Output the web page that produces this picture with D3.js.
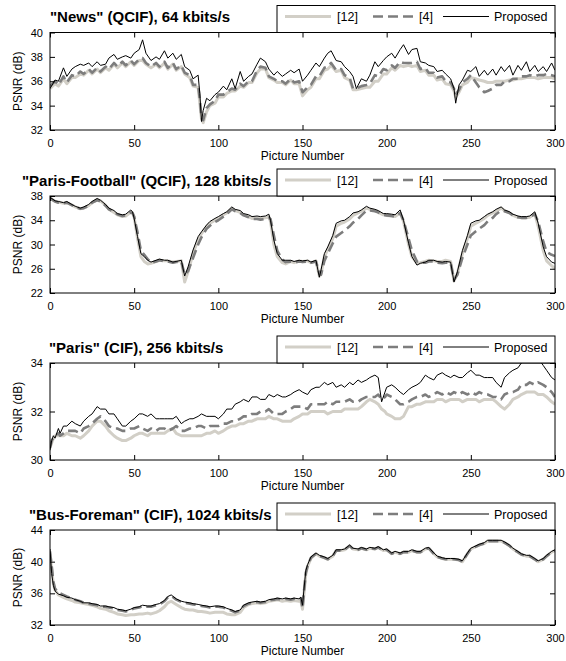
<!DOCTYPE html>
<html>
<head>
<meta charset="utf-8">
<script src="https://cdnjs.cloudflare.com/ajax/libs/d3/7.8.5/d3.min.js"></script>
<style>
body { margin: 0; background: #fff; }
text { font-family: "Liberation Sans", Arial, sans-serif; fill: #000; }
</style>
</head>
<body>
<script>
//---- data ----
var seriesNames = ["[12]", "[4]", "Proposed"];
var xTicks = [0, 50, 100, 150, 200, 250, 300];

// "News" (QCIF), 64 kbits/s
var newsTitle = "\"News\" (QCIF), 64 kbits/s";
var newsTicks = [32, 34, 36, 38, 40];
var newsFrames = [0,3,5,8,10,13,15,18,20,23, 25,28,30,33,35,38,40,43,45,48,
    50,53,55,57,60,63,65,68,70,73, 75,78,80,83,85,88,89,90,91,93,
    95,98,100,103,105,108,110,113,115,118, 120,123,125,128,130,133,135,138,140,143,
    145,148,150,153,155,158,160,163,165,167, 170,173,175,178,180,182,185,188,190,193,
    195,198,200,203,205,208,210,213,215,218, 220,223,225,228,230,233,235,238,240,241,
    243,245,248,250,253,255,258,260,263,265, 268,270,273,275,278,280,283,285,288,290,
    293,295,298,300];
var newsRef12 = [35.4,35.8,35.6,36.2,35.8,36.3,36.3,36.6,36.5,36.9, 36.6,37.0,36.7,37.1,36.9,37.4,37.1,37.5,37.2,37.6,
    37.3,37.7,37.7,37.4,37.1,37.4,37.1,37.5,37.0,37.4, 36.9,37.2,36.6,36.3,35.6,35.5,34.2,32.9,32.6,33.5,
    34.0,34.2,34.7,34.7,35.0,35.2,35.2,35.6,35.5,35.9, 35.9,36.7,37.0,37.0,36.3,36.1,35.9,35.9,35.7,36.1,
    35.8,35.8,34.8,35.3,35.5,36.2,36.2,36.9,37.0,37.3, 36.8,36.9,36.3,36.1,35.3,35.3,35.4,35.5,35.5,36.0,
    36.0,36.6,36.6,37.1,36.9,37.3,37.2,37.3,37.2,37.3, 36.8,36.9,36.5,36.5,36.1,36.2,35.8,35.7,35.2,34.7,
    35.1,35.7,35.9,36.3,36.2,36.1,36.0,35.9,35.9,36.0, 36.0,36.0,36.1,36.1,36.2,36.2,36.3,36.3,36.3,36.2,
    36.3,36.3,36.3,36.2];
var newsRef4 = [35.6,36.0,35.7,36.4,35.9,36.5,36.4,36.8,36.6,37.0, 36.7,37.1,36.8,37.2,37.0,37.5,37.2,37.6,37.3,37.7,
    37.4,37.8,37.9,37.5,37.2,37.5,37.2,37.6,37.1,37.5, 37.0,37.3,36.7,36.5,35.7,35.7,34.5,33.0,32.8,33.8,
    34.1,34.4,34.9,34.9,35.1,35.4,35.3,35.8,35.6,36.0, 36.0,36.9,37.2,37.1,36.4,36.2,36.0,36.0,35.8,36.2,
    35.9,36.0,35.1,35.5,35.7,36.4,36.4,37.1,37.2,37.5, 36.9,37.0,36.5,36.3,35.4,35.4,35.6,35.7,35.8,36.5,
    36.4,37.0,36.9,37.3,37.1,37.6,37.5,37.5,37.5,37.6, 37.0,37.1,36.7,36.7,36.3,36.4,36.0,35.9,35.4,34.9,
    35.3,35.9,36.2,36.5,35.9,35.5,35.1,35.2,35.4,35.7, 35.7,36.0,36.0,36.2,36.2,36.4,36.4,36.5,36.4,36.5,
    36.5,36.6,36.5,36.4];
var newsProposed = [35.4,36.1,36.0,37.1,36.4,37.0,37.2,37.4,37.3,37.5, 37.2,37.6,37.3,37.4,37.9,38.2,37.8,38.0,38.1,37.9,
    38.3,38.6,39.4,38.3,37.7,38.0,37.8,38.5,37.9,38.3, 37.8,38.2,37.2,36.9,36.2,36.5,35.0,32.7,33.6,34.6,
    34.4,34.9,35.1,35.6,35.3,36.2,35.4,36.8,36.0,36.4, 36.6,37.4,37.9,37.6,37.0,36.5,36.8,36.4,36.6,36.9,
    36.7,37.0,36.0,36.5,36.9,37.5,37.2,37.9,38.3,38.5, 37.7,37.6,37.2,36.8,36.4,35.4,36.2,36.0,36.5,37.6,
    37.2,37.7,38.0,38.3,37.9,38.6,39.0,38.2,38.6,38.7, 37.6,37.5,37.3,37.2,36.8,36.9,36.6,36.2,35.4,34.2,
    35.7,36.1,36.9,36.8,37.2,36.4,36.9,36.5,37.0,36.5, 37.2,36.8,37.3,36.5,37.3,36.9,37.6,36.8,37.3,36.8,
    37.2,36.8,37.5,36.9];

// "Paris-Football" (QCIF), 128 kbits/s
var footTitle = "\"Paris-Football\" (QCIF), 128 kbits/s";
var footTicks = [22, 26, 30, 34, 38];
var footFrames = [0,3,5,8,10,13,15,18,20,23, 25,28,30,33,35,38,40,43,45,48,
    49,50,52,54,56,58,60,63,65,68, 70,73,75,78,80,82,85,88,90,93,
    95,98,100,103,105,108,110,113,115,118, 120,123,125,128,130,131,133,135,138,140,
    143,145,148,150,153,155,158,160,161,163, 165,168,170,173,175,178,180,183,185,188,
    190,193,195,198,200,203,205,208,210,213, 215,218,220,223,225,228,230,233,235,238,
    240,242,245,248,250,253,255,258,260,263, 265,268,270,273,275,278,280,283,285,288,
    290,293,295,298,300];
var footRef12 = [37.7,37.1,37.0,36.8,36.9,36.5,36.2,35.9,36.0,36.4, 36.9,37.4,37.2,36.5,35.8,35.3,34.9,34.6,34.7,35.3,
    35.2,34.5,31.0,28.0,27.2,26.8,26.9,27.2,27.4,27.3, 27.3,27.1,27.2,27.3,23.8,25.5,28.5,30.8,31.8,33.0,
    33.5,34.0,34.3,34.9,35.2,35.9,35.6,35.3,34.9,34.6, 34.3,34.4,34.3,34.4,34.6,33.8,30.0,28.0,27.0,26.8,
    27.2,27.0,27.3,27.2,27.3,27.0,27.3,24.8,25.2,28.0, 29.2,31.0,33.0,33.5,33.7,34.2,34.8,35.2,35.5,36.0,
    35.8,35.6,35.3,34.9,34.8,34.7,34.6,35.2,33.8,30.0, 28.0,26.9,27.0,27.2,27.4,27.3,27.2,27.2,27.4,27.2,
    24.0,25.2,28.5,31.0,33.0,33.5,33.8,34.3,34.8,35.2, 35.5,36.0,35.6,35.2,34.8,34.5,34.4,34.4,34.5,35.1,
    33.0,29.0,27.3,26.5,26.0];
var footRef4 = [37.6,37.1,36.9,36.8,36.9,36.5,36.2,35.9,36.0,36.4, 36.9,37.3,37.1,36.4,35.8,35.4,35.0,34.7,34.8,35.3,
    35.2,34.6,32.0,29.0,28.3,27.6,27.0,27.2,27.4,27.2, 27.2,27.0,27.1,27.2,25.0,25.6,27.8,30.0,31.2,32.6,
    33.1,33.7,34.0,34.6,35.0,35.8,35.5,35.2,34.8,34.5, 34.2,34.2,34.1,34.2,34.4,34.2,31.5,29.0,27.5,27.1,
    27.2,27.0,27.2,27.1,27.2,27.0,27.2,25.2,25.0,27.3, 28.5,30.2,31.3,31.9,32.3,33.0,33.6,34.2,34.8,35.6,
    35.6,35.5,35.3,34.9,34.8,34.7,34.6,35.2,34.0,31.0, 29.0,27.2,27.0,27.0,27.2,27.2,27.0,26.9,27.0,27.0,
    24.2,25.0,27.8,30.0,31.5,32.2,32.6,33.2,33.8,34.4, 35.0,35.6,35.5,35.2,34.8,34.5,34.4,34.4,34.5,35.0,
    33.8,30.5,28.8,28.3,28.1];
var footProposed = [37.8,37.2,37.1,36.9,37.1,36.6,36.3,36.0,36.2,36.6, 37.1,37.6,37.3,36.6,36.0,35.6,35.1,34.9,35.0,35.7,
    35.4,34.3,31.3,28.5,28.0,27.4,27.1,27.4,27.6,27.4, 27.4,27.1,27.2,27.4,24.8,26.3,29.1,31.3,32.1,33.2,
    33.8,34.3,34.6,35.1,35.4,36.2,35.8,35.6,35.1,34.9, 34.6,34.7,34.6,34.7,35.0,34.0,30.7,28.5,27.4,27.4,
    27.4,27.2,27.4,27.3,27.4,27.1,27.4,24.6,25.8,28.5, 29.6,31.5,33.5,33.9,34.0,34.6,35.2,35.4,35.7,36.3,
    36.0,35.8,35.6,35.1,35.1,35.0,34.9,35.7,34.0,30.2, 28.0,26.6,26.9,27.1,27.4,27.4,27.2,27.1,27.2,27.1,
    23.8,25.5,29.0,31.5,33.5,33.9,34.0,34.6,35.0,35.4, 35.8,36.2,35.7,35.4,35.0,34.7,34.6,34.6,34.7,35.4,
    33.5,29.6,28.0,27.1,26.9];

// "Paris" (CIF), 256 kbits/s
var parisTitle = "\"Paris\" (CIF), 256 kbits/s";
var parisTicks = [30, 32, 34];
var parisFrames = [0,1,2,3,5,6,8,10,13,15, 18,20,23,25,28,30,33,35,38,40,
    43,45,48,50,53,55,58,60,63,65, 68,70,73,75,78,80,83,85,88,90,
    93,95,98,100,103,105,108,110,113,115, 118,120,123,125,128,130,133,135,138,140,
    143,145,148,150,153,155,158,160,163,165, 168,170,173,175,178,180,183,185,188,190,
    193,195,196,197,199,200,203,205,208,210, 213,215,218,220,223,225,228,230,233,235,
    238,240,243,245,248,250,253,255,258,260, 263,265,268,270,273,275,278,280,283,285,
    288,290,293,295,298,300];
var parisRef12 = [30.5,30.7,30.9,31.0,31.0,31.0,31.0,31.1,31.0,31.0, 30.9,31.0,31.2,31.4,31.6,31.6,31.4,31.2,31.0,30.9,
    30.8,30.8,30.9,31.0,31.1,31.1,31.0,31.1,31.1,31.1, 31.1,31.2,31.3,31.1,31.0,31.0,31.0,31.0,31.0,31.0,
    31.1,31.1,31.2,31.1,31.2,31.3,31.4,31.4,31.5,31.5, 31.6,31.6,31.7,31.7,31.7,31.8,31.7,31.7,31.6,31.6,
    31.6,31.7,31.8,31.9,31.9,32.0,32.0,32.0,32.0,31.9, 32.0,32.0,32.0,32.1,32.1,32.1,32.1,32.2,32.4,32.5,
    32.4,32.3,32.2,32.1,32.0,31.9,31.8,31.7,31.7,31.8, 32.2,32.2,32.3,32.3,32.4,32.4,32.4,32.5,32.5,32.4,
    32.5,32.5,32.5,32.4,32.5,32.5,32.5,32.4,32.5,32.5, 32.5,32.4,32.2,32.1,32.3,32.5,32.6,32.7,32.8,32.8,
    32.8,32.7,32.7,32.6,32.4,32.3];
var parisRef4 = [30.5,30.8,30.9,31.0,31.1,31.0,31.1,31.2,31.2,31.2, 31.1,31.3,31.4,31.5,31.7,31.8,31.6,31.4,31.3,31.3,
    31.2,31.2,31.3,31.3,31.4,31.3,31.2,31.3,31.2,31.3, 31.3,31.2,31.3,31.4,31.2,31.2,31.3,31.3,31.4,31.4,
    31.3,31.4,31.4,31.4,31.5,31.5,31.6,31.6,31.7,31.8, 31.8,31.9,31.9,32.0,32.0,32.1,31.9,31.9,31.9,32.0,
    32.1,32.2,32.2,32.2,32.1,32.3,32.3,32.3,32.3,32.4, 32.3,32.4,32.4,32.4,32.5,32.4,32.4,32.5,32.6,32.6,
    32.6,32.7,32.6,32.5,32.6,32.7,32.6,32.5,32.3,32.3, 32.4,32.5,32.6,32.6,32.7,32.6,32.7,32.8,32.7,32.8,
    32.7,32.8,32.7,32.8,32.7,32.8,32.7,32.8,32.7,32.7, 32.6,32.6,32.5,32.7,32.8,32.8,32.9,33.1,33.1,33.2,
    33.1,33.2,33.1,33.0,32.8,32.6];
var parisProposed = [30.4,30.8,31.0,30.9,31.3,31.1,31.4,31.4,31.6,31.5, 31.4,31.6,31.8,31.9,32.2,32.1,32.1,31.9,31.9,31.7,
    31.4,31.4,31.6,31.7,31.9,31.9,31.8,31.9,31.7,31.7, 31.7,31.7,31.7,31.8,31.5,31.6,31.7,31.7,31.8,31.9,
    31.8,31.8,31.8,31.7,31.9,32.1,32.1,32.3,32.4,32.5, 32.4,32.6,32.6,32.5,32.5,32.7,32.6,32.7,32.6,32.6,
    32.7,32.8,32.9,32.8,32.7,32.9,33.0,33.0,33.2,33.1, 33.2,33.0,33.1,33.0,33.2,33.1,33.3,33.2,33.3,33.4,
    33.5,33.4,32.9,32.4,32.8,33.0,33.1,33.0,32.8,32.7, 32.9,33.0,33.1,33.2,33.5,33.4,33.3,33.5,33.6,33.5,
    33.4,33.5,33.4,33.4,33.6,33.7,33.5,33.5,33.4,33.4, 33.4,33.2,33.0,33.4,33.6,33.7,33.8,34.0,34.2,34.2,
    34.1,34.2,33.9,33.7,33.4,33.3];

// "Bus-Foreman" (CIF), 1024 kbits/s
var busTitle = "\"Bus-Foreman\" (CIF), 1024 kbits/s";
var busTicks = [32, 36, 40, 44];
var busFrames = [0,1,2,3,5,8,10,13,15,18, 20,23,25,28,30,33,35,38,40,43,
    45,48,50,53,55,58,60,63,65,68, 70,72,75,78,80,83,85,88,90,93,
    95,98,100,103,105,108,110,113,115,118, 120,123,125,128,130,133,135,138,140,143,
    145,148,149,150,151,152,153,155,158,160, 163,165,168,170,173,175,178,180,183,185,
    188,190,193,195,198,200,203,205,208,210, 213,215,218,220,223,225,228,230,233,235,
    238,240,243,245,248,250,253,255,258,260, 263,265,268,270,273,275,278,280,283,285,
    288,290,293,295,298,300];
var busRef12 = [41.0,39.0,37.2,36.4,35.8,35.5,35.3,35.1,34.9,34.8, 34.7,34.6,34.5,34.3,34.1,34.0,33.8,33.6,33.4,33.3,
    33.2,33.3,33.3,33.4,33.4,33.5,33.4,33.6,33.8,34.3, 34.8,35.0,34.6,34.2,34.0,33.9,33.9,33.7,33.7,33.6,
    33.5,33.6,33.6,33.6,33.4,33.3,33.3,33.6,34.2,34.6, 34.7,34.8,34.7,34.8,35.0,35.1,35.2,35.0,35.1,35.0,
    35.1,35.0,35.1,34.0,36.2,38.5,39.4,40.4,41.0,40.7, 40.5,40.3,40.7,41.4,41.4,41.5,42.0,41.6,41.5,41.7,
    41.5,41.7,41.6,41.8,41.4,41.5,41.0,41.2,41.0,41.2, 41.2,41.4,41.2,41.2,41.6,41.7,41.0,40.6,40.4,40.3,
    40.3,40.3,40.2,40.0,41.0,41.6,41.9,42.1,42.3,42.6, 42.6,42.6,42.6,42.4,42.0,41.6,41.2,40.9,40.7,40.7,
    40.3,40.0,40.3,40.7,41.2,41.4];
var busRef4 = [41.3,39.5,37.5,36.6,36.1,35.8,35.6,35.4,35.2,35.0, 34.8,34.7,34.6,34.5,34.3,34.3,34.2,34.1,33.9,33.8,
    33.7,33.9,34.1,34.2,34.4,34.3,34.3,34.5,34.6,35.0, 35.5,35.7,35.2,34.9,34.8,34.7,34.6,34.5,34.4,34.3,
    34.2,34.3,34.3,34.2,34.0,33.8,33.6,33.8,34.4,34.7, 34.8,34.9,34.8,34.9,35.1,35.2,35.3,35.2,35.3,35.2,
    35.3,35.2,35.4,34.1,36.5,38.6,39.4,40.5,41.0,40.7, 40.5,40.3,40.7,41.4,41.4,41.5,42.0,41.6,41.5,41.7,
    41.5,41.7,41.6,41.8,41.4,41.5,41.0,41.2,41.0,41.2, 41.2,41.4,41.2,41.2,41.6,41.7,41.0,40.6,40.4,40.3,
    40.3,40.3,40.2,40.0,41.0,41.6,41.9,42.1,42.3,42.6, 42.6,42.6,42.6,42.4,42.0,41.6,41.2,40.9,40.7,40.7,
    40.3,40.0,40.3,40.7,41.2,41.4];
var busProposed = [41.6,38.5,37.0,36.3,35.9,35.7,35.5,35.4,35.2,35.0, 34.8,34.8,34.7,34.6,34.4,34.4,34.3,34.2,34.0,33.9,
    33.8,34.0,34.2,34.3,34.5,34.4,34.4,34.6,34.7,35.1, 35.6,35.8,35.3,35.0,34.9,34.8,34.7,34.6,34.5,34.4,
    34.3,34.4,34.4,34.3,34.1,33.9,33.7,33.9,34.5,34.8, 34.9,35.0,34.9,35.0,35.2,35.3,35.4,35.3,35.4,35.3,
    35.4,35.3,35.5,34.5,36.8,38.9,39.6,40.6,41.1,40.8, 40.6,40.4,40.8,41.5,41.5,41.6,42.1,41.7,41.6,41.8,
    41.6,41.8,41.7,41.9,41.5,41.6,41.1,41.3,41.1,41.3, 41.3,41.5,41.3,41.3,41.7,41.8,41.1,40.7,40.5,40.4,
    40.4,40.4,40.3,40.1,41.1,41.7,42.0,42.2,42.4,42.7, 42.7,42.7,42.7,42.5,42.1,41.7,41.3,41.0,40.8,40.8,
    40.4,40.1,40.4,40.8,41.3,41.5];

//execute script when window is loaded
window.onload = function(){

    var w = 566, h = 661;
    var left = 50, right = 555; //plot box x-extent, same for every panel

    var svg = d3.select("body")
        .append("svg")
        .attr("width", w)
        .attr("height", h)
        .attr("class", "container")
        .style("background-color", "#fff");

    //one entry per panel; layout numbers kept here, not in the data
    var panels = [
        {title: newsTitle, frames: newsFrames, series: [newsRef12, newsRef4, newsProposed], ticks: newsTicks, top: 32.5, height: 97.5, titleX: 50},
        {title: footTitle, frames: footFrames, series: [footRef12, footRef4, footProposed], ticks: footTicks, top: 196, height: 97, titleX: 22},
        {title: parisTitle, frames: parisFrames, series: [parisRef12, parisRef4, parisProposed], ticks: parisTicks, top: 363, height: 97, titleX: 49},
        {title: busTitle, frames: busFrames, series: [busRef12, busRef4, busProposed], ticks: busTicks, top: 530, height: 95, titleX: 29}
    ];

    //line styles for [12], [4], Proposed
    var styles = [
        {color: "#d2cfc7", width: 3, dash: null},
        {color: "#7d7d7d", width: 2.6, dash: "10,5"},
        {color: "#000000", width: 1, dash: null}
    ];

    var fmt = d3.format("d");

    panels.forEach(function(p, pi){

        var x = d3.scaleLinear()
            .domain([0, 300])
            .range([left, right]);

        var y = d3.scaleLinear()
            .domain(d3.extent(p.ticks))
            .range([p.top + p.height, p.top]);

        var g = svg.append("g")
            .attr("class", "panel");

        //clip the lines to the plot box
        g.append("clipPath")
            .attr("id", "clip" + pi)
            .append("rect")
            .attr("x", left)
            .attr("y", p.top)
            .attr("width", right - left)
            .attr("height", p.height);

        var line = d3.line()
            .x(function(d){ return x(d[0]); })
            .y(function(d){ return y(d[1]); })
            .defined(function(d){ return d[1] != null; });

        var lines = g.append("g")
            .attr("clip-path", "url(#clip" + pi + ")");

        p.series.forEach(function(vals, si){
            lines.append("path")
                .datum(d3.zip(p.frames, vals))
                .attr("d", line)
                .attr("fill", "none")
                .attr("stroke", styles[si].color)
                .attr("stroke-width", styles[si].width)
                .attr("stroke-dasharray", styles[si].dash)
                .attr("stroke-linejoin", "round");
        });

        //bottom axis with labels, ticks pointing in
        var xAxis = d3.axisBottom(x)
            .tickValues(xTicks)
            .tickFormat(fmt)
            .tickSizeInner(-5)
            .tickSizeOuter(0)
            .tickPadding(9);
        g.append("g")
            .attr("transform", "translate(0," + (p.top + p.height) + ")")
            .call(xAxis);

        //top ticks only
        g.append("g")
            .attr("transform", "translate(0," + p.top + ")")
            .call(d3.axisTop(x).tickValues(xTicks).tickSizeInner(-5).tickSizeOuter(0).tickFormat(""));

        var yAxis = d3.axisLeft(y)
            .tickValues(p.ticks)
            .tickFormat(fmt)
            .tickSizeInner(-5)
            .tickSizeOuter(0)
            .tickPadding(7);
        g.append("g")
            .attr("transform", "translate(" + left + ",0)")
            .call(yAxis);

        g.append("g")
            .attr("transform", "translate(" + right + ",0)")
            .call(d3.axisRight(y).tickValues(p.ticks).tickSizeInner(-5).tickSizeOuter(0).tickFormat(""));

        g.selectAll(".domain").remove();
        g.selectAll(".tick line").attr("stroke", "#000");
        g.selectAll(".tick text")
            .style("font-size", "11px")
            .style("font-family", "'Liberation Sans', Arial, sans-serif");

        //box around the plot
        g.append("rect")
            .attr("x", left)
            .attr("y", p.top)
            .attr("width", right - left)
            .attr("height", p.height)
            .attr("fill", "none")
            .attr("stroke", "#000")
            .attr("stroke-width", 1);

        //title
        g.append("text")
            .attr("x", p.titleX)
            .attr("y", p.top - 10.5)
            .style("font-size", "15px")
            .style("font-weight", "bold")
            .text(p.title);

        //axis labels
        g.append("text")
            .attr("text-anchor", "middle")
            .attr("x", (left + right) / 2)
            .attr("y", p.top + p.height + 29.5)
            .style("font-size", "12px")
            .text("Picture Number");

        g.append("text")
            .attr("text-anchor", "middle")
            .attr("transform", "rotate(-90)")
            .attr("x", -(p.top + p.height / 2))
            .attr("y", 21.5)
            .style("font-size", "12px")
            .text("PSNR (dB)");

        //legend box sitting on top of the plot box
        var lg = g.append("g")
            .attr("transform", "translate(277," + (p.top - 27) + ")");
        lg.append("rect")
            .attr("width", right - 277)
            .attr("height", 27)
            .attr("fill", "#fff")
            .attr("stroke", "#000");

        var legX = [[8, 54, 60], [96, 137, 142], [166, 212, 217]];
        seriesNames.forEach(function(name, si){
            lg.append("line")
                .attr("x1", legX[si][0])
                .attr("x2", legX[si][1])
                .attr("y1", 11)
                .attr("y2", 11)
                .attr("stroke", styles[si].color)
                .attr("stroke-width", styles[si].width)
                .attr("stroke-dasharray", styles[si].dash);
            lg.append("text")
                .attr("x", legX[si][2])
                .attr("y", 15.8)
                .style("font-size", "12.5px")
                .text(name);
        });
    });
};
</script>
</body>
</html>
